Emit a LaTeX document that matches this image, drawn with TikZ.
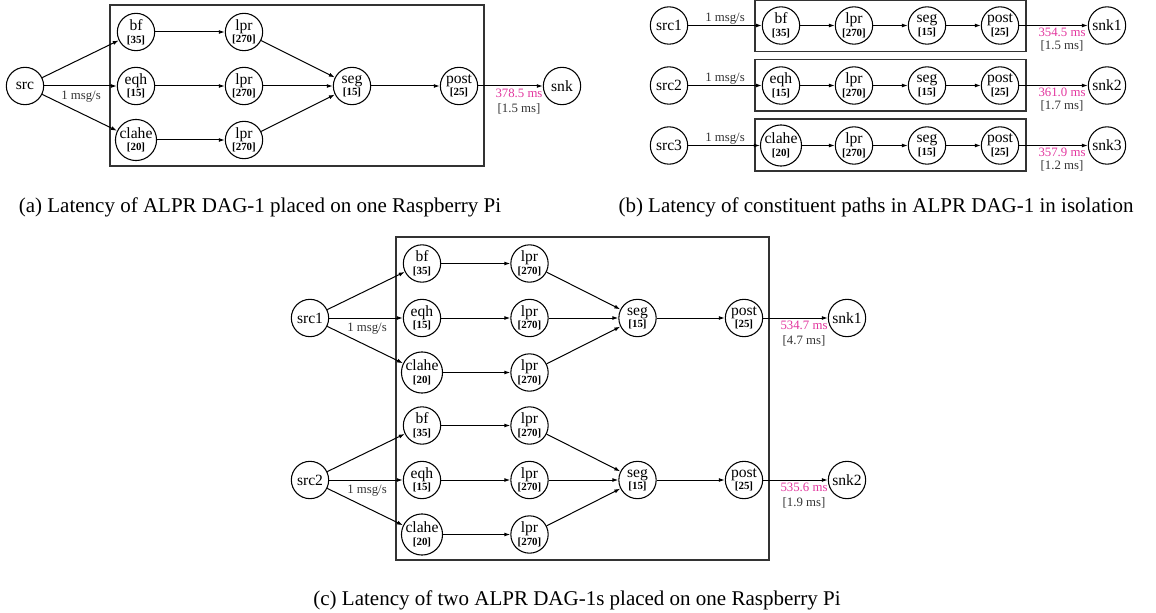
\documentclass[tikz,border=0pt]{standalone}
\usepackage{fontspec}
\setmainfont{Liberation Serif}
\usetikzlibrary{arrows.meta}
\definecolor{latc}{HTML}{E2369E}
\definecolor{txtc}{HTML}{333333}
\newcommand\nd[2]{#1\\[-4.6pt]{\fontsize{8.2}{9}\selectfont\bfseries[#2]}}
\begin{document}
\begin{tikzpicture}[x=0.75pt,y=-0.75pt,
 op/.style={circle,draw,line width=0.8pt,minimum size=28pt,inner sep=0pt,align=center,font=\fontsize{11.7}{14}\selectfont},
 arr/.style={line width=0.75pt,-{Latex[length=4.5pt,width=3pt]}},
 grp/.style={draw=black!80,line width=0.9pt},
 rate/.style={font=\fontsize{9.6}{11}\selectfont,text=txtc,inner sep=0pt},
 late/.style={font=\fontsize{9.6}{11}\selectfont,text=latc,inner sep=0pt},
 dev/.style={font=\fontsize{9.6}{11}\selectfont,text=txtc,inner sep=0pt},
 capt/.style={font=\fontsize{15.75}{18}\selectfont,inner sep=0pt,anchor=base}]
\useasboundingbox (0,0) rectangle (1156,613);
% ---------------- panel (a)
\draw[grp] (110,5) rectangle (484,166);
\node[op] (a-src) at (25,86) {src};
\node[op] (a-bf) at (136,32) {\nd{bf}{35}};
\node[op] (a-eqh) at (136,86) {\nd{eqh}{15}};
\node[op] (a-cl) at (136,140) {\nd{clahe}{20}};
\node[op] (a-l1) at (244,32) {\nd{lpr}{270}};
\node[op] (a-l2) at (244,86) {\nd{lpr}{270}};
\node[op] (a-l3) at (244,140) {\nd{lpr}{270}};
\node[op] (a-seg) at (352,86) {\nd{seg}{15}};
\node[op] (a-post) at (459,86) {\nd{post}{25}};
\node[op] (a-snk) at (562,86) {snk};
\draw[arr] (a-src) -- (a-bf);
\draw[arr] (a-src) -- (a-eqh);
\draw[arr] (a-src) -- (a-cl);
\draw[arr] (a-bf) -- (a-l1);
\draw[arr] (a-eqh) -- (a-l2);
\draw[arr] (a-cl) -- (a-l3);
\draw[arr] (a-l1) -- (a-seg);
\draw[arr] (a-l2) -- (a-seg);
\draw[arr] (a-l3) -- (a-seg);
\draw[arr] (a-seg) -- (a-post);
\draw[arr] (a-post) -- (a-snk);
\node[rate] (a-rate) at (81,97) {1 msg/s};
\node[late] (a-lat) at (519,93) {378.5 ms};
\node[dev] (a-dev) at (519,109) {[1.5 ms]};
\node[capt] (a-cap) at (260,213) {(a) Latency of ALPR DAG-1 placed on one Raspberry Pi};
% ---------------- panel (b)
\draw[grp] (755,0.8) rectangle (1026,51.7);
\draw[grp] (755,59.3) rectangle (1026,111);
\draw[grp] (755,119) rectangle (1026,171);
\foreach \i/\y/\f/\n/\l/\d in {1/25.5/bf/35/354.5/1.5, 2/85.5/eqh/15/361.0/1.7, 3/145.5/clahe/20/357.9/1.2}{
  \node[op] (b-src\i) at (669,\y) {src\i};
  \node[op] (b-f\i) at (781,\y) {\nd{\f}{\n}};
  \node[op] (b-l\i) at (854,\y) {\nd{lpr}{270}};
  \node[op] (b-seg\i) at (927,\y) {\nd{seg}{15}};
  \node[op] (b-post\i) at (1000,\y) {\nd{post}{25}};
  \node[op] (b-snk\i) at (1107,\y) {snk\i};
  \draw[arr] (b-src\i) -- (b-f\i);
  \draw[arr] (b-f\i) -- (b-l\i);
  \draw[arr] (b-l\i) -- (b-seg\i);
  \draw[arr] (b-seg\i) -- (b-post\i);
  \draw[arr] (b-post\i) -- (b-snk\i);
  \node[rate] (b-rate\i) at (725,\y-7) {1 msg/s};
  \node[late] (b-lat\i) at (1062,\y+6.5) {\l\ ms};
  \node[dev] (b-dev\i) at (1062,\y+20.5) {[\d\ ms]};
}
\node[capt] (b-cap) at (876,213) {(b) Latency of constituent paths in ALPR DAG-1 in isolation};
% ---------------- panel (c)
\draw[grp] (396,237) rectangle (769,560);
\foreach \i/\y/\l/\d in {1/318/534.7/4.7, 2/480/535.6/1.9}{
  \node[op] (c-src\i) at (310,\y) {src\i};
  \node[op] (c-bf\i) at (422,\y-54.5) {\nd{bf}{35}};
  \node[op] (c-eqh\i) at (422,\y) {\nd{eqh}{15}};
  \node[op] (c-cl\i) at (422,\y+54.5) {\nd{clahe}{20}};
  \node[op] (c-la\i) at (529.5,\y-54.5) {\nd{lpr}{270}};
  \node[op] (c-lb\i) at (529.5,\y) {\nd{lpr}{270}};
  \node[op] (c-lc\i) at (529.5,\y+54.5) {\nd{lpr}{270}};
  \node[op] (c-seg\i) at (637.5,\y) {\nd{seg}{15}};
  \node[op] (c-post\i) at (744,\y) {\nd{post}{25}};
  \node[op] (c-snk\i) at (847,\y) {snk\i};
  \draw[arr] (c-src\i) -- (c-bf\i);
  \draw[arr] (c-src\i) -- (c-eqh\i);
  \draw[arr] (c-src\i) -- (c-cl\i);
  \draw[arr] (c-bf\i) -- (c-la\i);
  \draw[arr] (c-eqh\i) -- (c-lb\i);
  \draw[arr] (c-cl\i) -- (c-lc\i);
  \draw[arr] (c-la\i) -- (c-seg\i);
  \draw[arr] (c-lb\i) -- (c-seg\i);
  \draw[arr] (c-lc\i) -- (c-seg\i);
  \draw[arr] (c-seg\i) -- (c-post\i);
  \draw[arr] (c-post\i) -- (c-snk\i);
  \node[rate] (c-rate\i) at (367,\y+11) {1 msg/s};
  \node[late] (c-lat\i) at (804,\y+7.7) {\l\ ms};
  \node[dev] (c-dev\i) at (804,\y+23) {[\d\ ms]};
}
\node[capt] (c-cap) at (577,605) {(c) Latency of two ALPR DAG-1s placed on one Raspberry Pi};
\end{tikzpicture}
\end{document}
